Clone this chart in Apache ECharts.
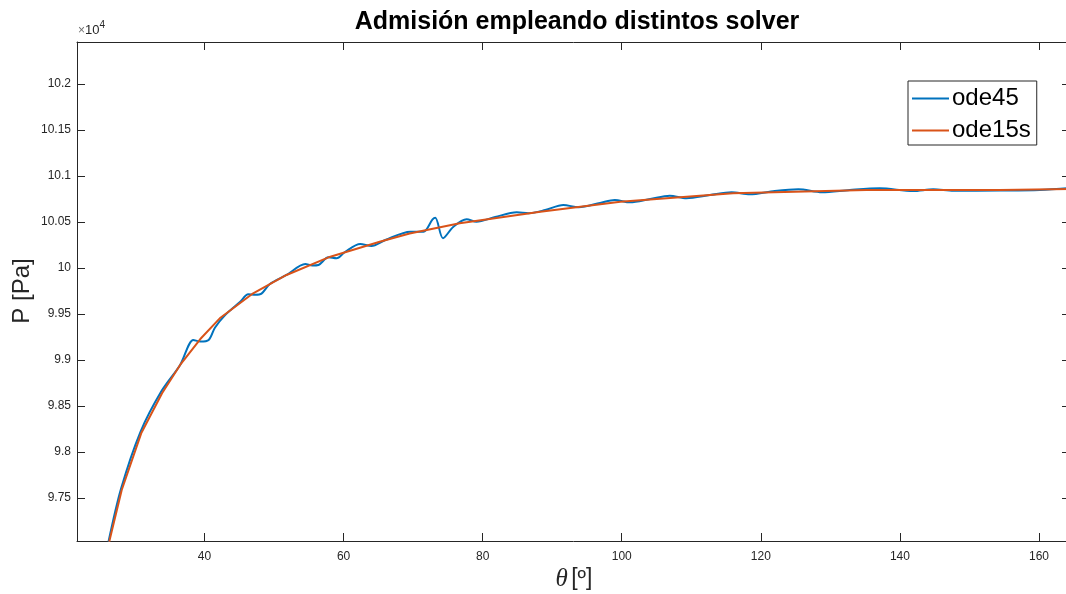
<!DOCTYPE html>
<html>
<head>
<meta charset="utf-8">
<script src="https://cdn.jsdelivr.net/npm/echarts@6/dist/echarts.min.js"></script>
<style>
  html, body { margin: 0; padding: 0; background: #ffffff; overflow: hidden; }
  #chart { width: 1072px; height: 594px; }
</style>
</head>
<body>
<div id="chart"></div>
<script>
// Intake pressure vs crank angle, two ODE solvers (pressure in Pa)
const ode45Theta = [26.2, 28.0, 30.8, 33.8, 36.5, 38.4, 39.4, 40.6, 41.5, 43.0, 45.1, 46.3, 47.3, 48.2, 49.4,
  51.8, 54.5, 55.5, 56.4, 57.8, 59.0, 60.2, 62.4, 64.0, 66.0, 69.6, 71.5, 72.8, 73.2, 74.3, 75.8, 77.7, 79.1,
  81.8, 84.9, 86.6, 89.0, 91.6, 93.8, 96.9, 99.0, 101.2, 104.1, 106.9, 109.3, 112.7, 115.8, 118.4, 122.0,
  125.4, 128.8, 132.8, 137.1, 141.9, 144.8, 147.7, 154.4, 160.1, 164.5];
const ode45P = [97025, 97600, 98220, 98660, 98946, 99217, 99200, 99217, 99350, 99490, 99630, 99714, 99709, 99721, 99826,
  99924, 100043, 100027, 100033, 100116, 100105, 100174, 100261, 100239, 100304, 100395, 100395, 100529, 100547, 100323, 100449, 100529, 100503,
  100554, 100605, 100595, 100630, 100685, 100660, 100707, 100739, 100714, 100750, 100786, 100758, 100793, 100823, 100801, 100837,
  100855, 100823, 100848, 100866, 100837, 100855, 100840, 100842, 100848, 100870];

const ode15sTheta = [26.3, 28.1, 30.9, 33.9, 36.5, 39.4, 42.2, 47.0, 51.8, 58.1, 65.2, 69.5, 76.7, 88.3, 99.8, 116.0, 135.2, 154.4, 164.5];
const ode15sP = [97025, 97587, 98203, 98638, 98946, 99228, 99453, 99725, 99924, 100123, 100286, 100375, 100486, 100612, 100721, 100812, 100848, 100848, 100859];

const xTicks = [40, 60, 80, 100, 120, 140, 160];
const yTicks = [97500, 98000, 98500, 99000, 99500, 100000, 100500, 101000, 101500, 102000];

const axisColor = '#262626';
const xMin = 21.67, xMax = 164.46;
const yMin = 97032.6, yMax = 102456.5;

function pairs(xs, ys) { return xs.map((x, i) => [x, ys[i]]); }
function fmtY(v) { return String(parseFloat((v / 1e4).toFixed(2))); }

const chart = echarts.init(document.getElementById('chart'), null, { renderer: 'canvas' });

const baseX = {
  type: 'value', min: xMin, max: xMax,
  splitLine: { show: false },
  axisLine: { show: true, onZero: false, lineStyle: { color: axisColor, width: 1 } },
  axisTick: { show: true, inside: true, length: 8, customValues: xTicks, lineStyle: { color: axisColor } }
};
const baseY = {
  type: 'value', min: yMin, max: yMax,
  splitLine: { show: false },
  axisLine: { show: true, onZero: false, lineStyle: { color: axisColor, width: 1 } },
  axisTick: { show: true, inside: true, length: 8, customValues: yTicks, lineStyle: { color: axisColor } }
};

chart.setOption({
  animation: false,
  backgroundColor: '#ffffff',
  grid: { left: 77, right: 2, top: 42, bottom: 53, containLabel: false },
  xAxis: [
    Object.assign({}, baseX, {
      position: 'bottom',
      axisLabel: { show: true, customValues: xTicks, margin: 10, color: axisColor, fontSize: 12,
        fontFamily: 'Liberation Sans, Arial, sans-serif' }
    }),
    Object.assign({}, baseX, { position: 'top', axisLabel: { show: false } })
  ],
  yAxis: [
    Object.assign({}, baseY, {
      position: 'left',
      axisLabel: { show: true, customValues: yTicks, margin: 6, color: axisColor, fontSize: 12,
        fontFamily: 'Liberation Sans, Arial, sans-serif', formatter: fmtY }
    }),
    Object.assign({}, baseY, { position: 'right', axisLabel: { show: false } })
  ],
  legend: {
    orient: 'vertical',
    left: 908, top: 81,
    padding: [5, 6, 2, 4],
    itemGap: 7,
    icon: 'rect',
    itemWidth: 37, itemHeight: 2,
    backgroundColor: '#ffffff',
    borderColor: axisColor, borderWidth: 1,
    textStyle: { fontSize: 24, color: '#000000', fontFamily: 'Liberation Sans, Arial, sans-serif', lineHeight: 25, padding: [0, 0, 0, -2] },
    data: ['ode45', 'ode15s']
  },
  series: [
    {
      name: 'ode45', type: 'line', xAxisIndex: 0, yAxisIndex: 0,
      data: pairs(ode45Theta, ode45P),
      symbol: 'none', smooth: 0.3, clip: true,
      lineStyle: { color: '#0072BD', width: 2 },
      itemStyle: { color: '#0072BD' }
    },
    {
      name: 'ode15s', type: 'line', xAxisIndex: 0, yAxisIndex: 0,
      data: pairs(ode15sTheta, ode15sP),
      symbol: 'none', clip: true,
      lineStyle: { color: '#D95319', width: 2 },
      itemStyle: { color: '#D95319' }
    }
  ],
  graphic: [
    {
      type: 'text', x: 577, y: 22,
      style: { text: 'Admisión empleando distintos solver', fontSize: 25, fontWeight: 'bold',
        fontFamily: 'Liberation Sans, Arial, sans-serif', fill: '#000000', align: 'center', verticalAlign: 'middle' }
    },
    {
      type: 'text', x: 22, y: 291, rotation: Math.PI / 2,
      style: { text: 'P [Pa]', fontSize: 24, fontFamily: 'Liberation Sans, Arial, sans-serif',
        fill: '#262626', align: 'center', verticalAlign: 'middle' }
    },
    {
      type: 'text', x: 574, y: 579,
      style: {
        text: '{t|θ} {b|[º]}',
        align: 'center', verticalAlign: 'middle',
        rich: {
          t: { fontSize: 25, fontStyle: 'italic', fontFamily: 'Liberation Serif, Times New Roman, serif', fill: '#262626' },
          b: { fontSize: 23, fontFamily: 'Liberation Sans, Arial, sans-serif', fill: '#262626' }
        }
      }
    },
    {
      type: 'text', x: 78, y: 37,
      style: {
        text: '{x|×}{n|10}{e|4}',
        align: 'left', verticalAlign: 'bottom',
        rich: {
          x: { fontSize: 12, fontFamily: 'Liberation Sans, Arial, sans-serif', fill: '#707070', verticalAlign: 'bottom' },
          n: { fontSize: 13, fontFamily: 'Liberation Sans, Arial, sans-serif', fill: '#262626', verticalAlign: 'bottom' },
          e: { fontSize: 10, fontFamily: 'Liberation Sans, Arial, sans-serif', fill: '#262626', padding: [0, 0, 7, 0], verticalAlign: 'bottom' }
        }
      }
    }
  ]
});
</script>
</body>
</html>
